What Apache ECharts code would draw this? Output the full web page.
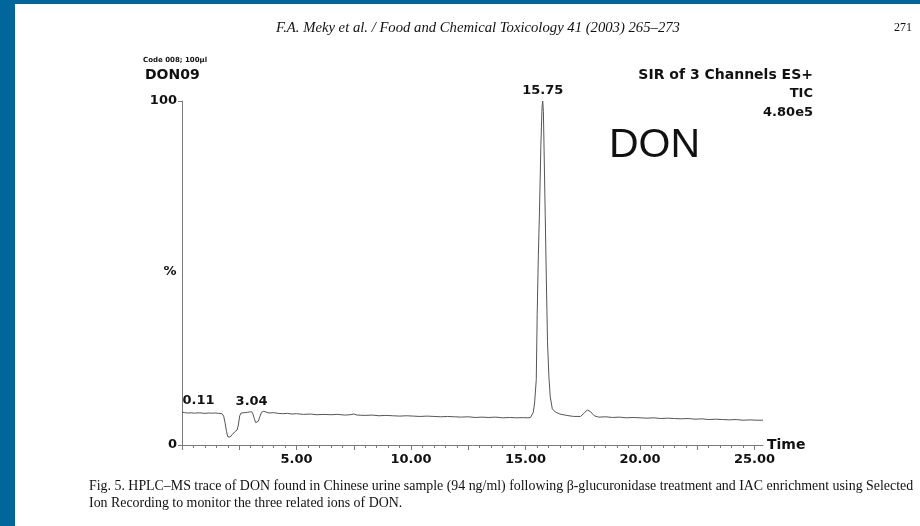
<!DOCTYPE html>
<html>
<head>
<meta charset="utf-8">
<script src="https://cdn.jsdelivr.net/npm/echarts@6/dist/echarts.min.js"></script>
<style>
  html, body { margin: 0; padding: 0; background: #00669b; }
  #chart { width: 920px; height: 526px; }
</style>
</head>
<body>
<div id="chart"></div>
<script>
// Total ion current trace (time in min, intensity in % of base peak)
const trace = [
  [0.00, 9.6], [0.05, 9.1], [0.11, 9.4], [0.25, 9.3], [0.40, 9.35], [0.55, 9.25],
  [0.70, 9.35], [0.85, 9.3], [1.00, 9.2], [1.15, 9.3], [1.30, 9.25], [1.45, 9.3],
  [1.60, 9.2], [1.75, 9.1], [1.82, 8.4], [1.88, 6.5], [1.94, 4.0], [2.00, 2.4],
  [2.04, 1.9], [2.10, 2.3], [2.20, 3.1], [2.30, 3.8], [2.41, 4.4], [2.46, 5.8],
  [2.52, 8.5], [2.58, 9.3], [2.65, 9.5], [2.75, 9.4], [2.85, 9.5], [2.95, 9.6],
  [3.04, 9.7], [3.10, 9.0], [3.16, 7.6], [3.22, 6.5], [3.27, 6.3], [3.33, 6.9],
  [3.40, 8.2], [3.47, 9.5], [3.57, 9.8], [3.66, 9.6], [3.80, 9.3], [4.00, 9.4],
  [4.20, 9.2], [4.40, 9.1], [4.60, 9.2], [4.80, 9.0], [5.00, 9.1], [5.30, 8.9],
  [5.60, 9.0], [5.90, 8.8], [6.20, 8.9], [6.50, 8.8], [6.80, 8.9], [7.10, 8.7],
  [7.35, 8.8], [7.50, 9.0], [7.65, 8.7], [8.00, 8.6], [8.30, 8.7], [8.60, 8.5],
  [8.90, 8.6], [9.20, 8.5], [9.50, 8.4], [9.80, 8.5], [10.10, 8.4], [10.40, 8.3],
  [10.70, 8.4], [11.00, 8.3], [11.30, 8.2], [11.60, 8.3], [11.90, 8.2], [12.20, 8.1],
  [12.50, 8.2], [12.80, 8.0], [13.10, 8.1], [13.40, 8.0], [13.70, 8.1], [14.00, 7.9],
  [14.30, 8.0], [14.60, 7.9], [14.90, 7.95], [15.10, 7.9], [15.22, 8.0], [15.28, 8.3],
  [15.34, 9.5], [15.40, 12.5], [15.47, 19], [15.51, 38], [15.56, 55], [15.61, 68],
  [15.67, 87], [15.72, 98], [15.75, 100], [15.78, 97], [15.81, 86], [15.86, 67],
  [15.91, 48], [15.96, 30], [16.02, 20], [16.08, 14], [16.17, 10.5], [16.30, 9.6],
  [16.50, 9.0], [16.80, 8.6], [17.10, 8.3], [17.40, 8.3], [17.55, 9.2], [17.70, 10.2],
  [17.85, 9.6], [18.00, 8.5], [18.20, 8.1], [18.50, 8.2], [18.80, 8.0], [19.10, 8.1],
  [19.40, 7.9], [19.70, 8.0], [20.00, 7.9], [20.30, 7.8], [20.60, 7.9], [20.90, 7.7],
  [21.20, 7.8], [21.50, 7.7], [21.80, 7.6], [22.10, 7.7], [22.40, 7.5], [22.70, 7.6],
  [23.00, 7.4], [23.30, 7.5], [23.60, 7.4], [23.90, 7.3], [24.20, 7.4], [24.50, 7.2],
  [24.80, 7.3], [25.10, 7.2], [25.37, 7.2]
];

// Retention times annotated on the trace [time, intensity]
const peaks = [[0.11, 9.4], [3.04, 9.7], [15.75, 100]];

// Axis tick labels
const xTickLabels = [5, 10, 15, 20, 25];
const yTickLabels = [0, 100];

const xMax = 25.37;
const majorTicks = [];
for (let t = 0; t <= 25; t += 2.5) majorTicks.push(t);
const minorTicks = [];
for (let t = 0; t <= 25.001; t += 0.5) minorTicks.push(+t.toFixed(1));

const SANS_B = '"DejaVu Sans", sans-serif';
const AXIS_GRAY = '#7a7a7a';
const INK = '#111';

function txt(text, x, y, font, align) {
  return {
    type: 'text', z: 10,
    style: { text: text, x: x, y: y, font: font, fill: INK, align: align || 'left', verticalAlign: 'middle' }
  };
}

const chart = echarts.init(document.getElementById('chart'), null, { renderer: 'canvas' });

chart.setOption({
  animation: false,
  backgroundColor: 'transparent',
  grid: { left: 182, right: 157, top: 101, bottom: 81, containLabel: false },
  xAxis: [
    {
      type: 'value', min: 0, max: xMax,
      axisLine: { show: true, lineStyle: { color: AXIS_GRAY, width: 1 } },
      axisTick: { show: true, length: 5, customValues: majorTicks, lineStyle: { color: AXIS_GRAY } },
      axisLabel: {
        customValues: xTickLabels, margin: 8, color: INK,
        fontFamily: SANS_B, fontWeight: 'bold', fontSize: 13,
        formatter: v => v.toFixed(2)
      },
      splitLine: { show: false },
      name: 'Time', nameLocation: 'end', nameGap: 4,
      nameTextStyle: { fontFamily: SANS_B, fontWeight: 'bold', fontSize: 14, color: INK, verticalAlign: 'middle', padding: [4, 0, 0, 0] }
    },
    {
      type: 'value', min: 0, max: xMax, position: 'bottom',
      axisLine: { show: false },
      axisTick: { show: true, length: 3, customValues: minorTicks, lineStyle: { color: AXIS_GRAY } },
      axisLabel: { show: false },
      splitLine: { show: false }
    }
  ],
  yAxis: {
    type: 'value', min: 0, max: 100,
    axisLine: { show: true, lineStyle: { color: AXIS_GRAY, width: 1 } },
    axisTick: { show: true, length: 4, customValues: yTickLabels, lineStyle: { color: AXIS_GRAY } },
    axisLabel: {
      customValues: yTickLabels, margin: 5, color: INK,
      fontFamily: SANS_B, fontWeight: 'bold', fontSize: 13,
      padding: [3, 0, 0, 0]
    },
    splitLine: { show: false }
  },
  series: [
    {
      type: 'line', data: trace, xAxisIndex: 0,
      symbol: 'none', smooth: false,
      lineStyle: { color: '#555', width: 1 }
    },
    {
      type: 'scatter', xAxisIndex: 0, symbolSize: 1,
      itemStyle: { color: 'rgba(0,0,0,0)', opacity: 1 },
      data: peaks.map((p, i) => ({
        value: p,
        label: i === 0 ? { offset: [14, 0], distance: 5 } : {}
      })),
      label: {
        show: true, position: 'top', distance: 3, color: INK, opacity: 1,
        fontFamily: SANS_B, fontWeight: 'bold', fontSize: 13,
        formatter: p => p.value[0].toFixed(2)
      }
    }
  ],
  graphic: [
    { type: 'rect', z: -10, shape: { x: 15, y: 4, width: 905, height: 522 }, style: { fill: '#fff' } },
    txt('F.A. Meky et al. / Food and Chemical Toxicology 41 (2003) 265–273', 478, 28, 'italic 14.7px "Liberation Serif", serif', 'center'),
    txt('271', 903, 28, '12px "Liberation Serif", serif', 'center'),
    txt('Code 008; 100µl', 143, 60, 'bold 7px ' + SANS_B, 'left'),
    txt('DON09', 145, 75, 'bold 14px ' + SANS_B, 'left'),
    txt('SIR of 3 Channels ES+', 813, 75, 'bold 14px ' + SANS_B, 'right'),
    txt('TIC', 813, 94, 'bold 13px ' + SANS_B, 'right'),
    txt('4.80e5', 813, 113, 'bold 13px ' + SANS_B, 'right'),
    txt('DON', 609, 146, '41px "Liberation Sans", Arial, sans-serif', 'left'),
    txt('%', 170, 272, 'bold 13px ' + SANS_B, 'center'),
    txt('Fig. 5. HPLC–MS trace of DON found in Chinese urine sample (94 ng/ml) following β-glucuronidase treatment and IAC enrichment using Selected',
      89, 486, '13.9px "Liberation Serif", serif', 'left'),
    txt('Ion Recording to monitor the three related ions of DON.', 89, 503, '13.9px "Liberation Serif", serif', 'left')
  ]
});
</script>
</body>
</html>
